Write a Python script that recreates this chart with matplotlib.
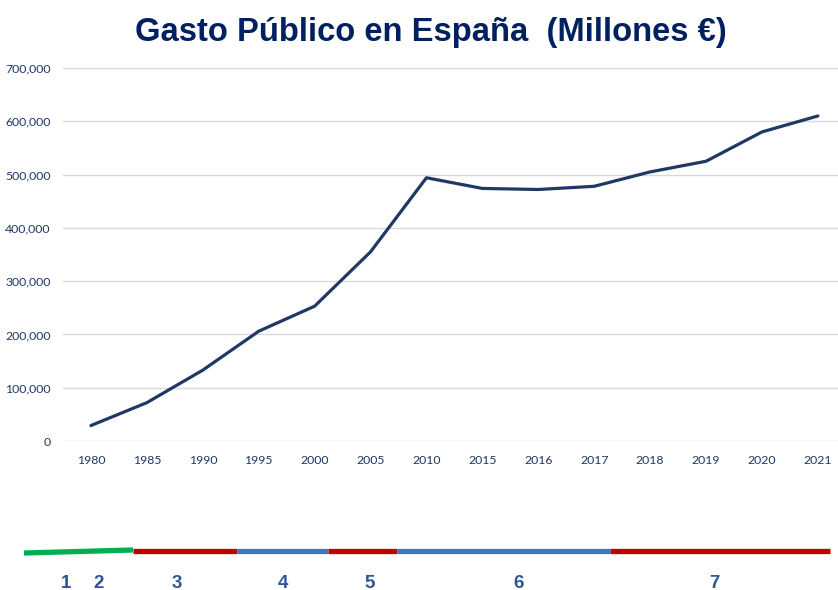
import numpy as np
import matplotlib.pyplot as plt
from matplotlib.ticker import FuncFormatter

# Gasto publico (millones de euros)
years = ["1980", "1985", "1990", "1995", "2000", "2005", "2010",
         "2015", "2016", "2017", "2018", "2019", "2020", "2021"]
spending = [29000, 72000, 133000, 206000, 253000, 355000, 494000,
            474000, 472000, 478000, 505000, 525000, 580000, 610000]

# Periodos de la linea temporal inferior
period_edges = [24, 133, 237, 328, 397, 610, 830]
period_colors = ["#00B050", "#C00000", "#4472C4", "#C00000", "#4472C4", "#C00000"]
period_labels = ["1", "2", "3", "4", "5", "6", "7"]
label_pos = [66, 99, 177, 283, 370, 519, 714]

W, H = 838, 590
fig = plt.figure(figsize=(W / 100, H / 100), dpi=100)

ax = fig.add_axes([63 / W, 1 - 441 / H, 1 - 63 / W, (441 - 68) / H])
x = np.arange(len(years))
ax.plot(x, spending, color="#203864", linewidth=2.3, solid_capstyle="round")
ax.set_xlim(-0.5, len(years) - 0.64)
ax.set_ylim(0, 700000)
ax.set_yticks(np.arange(0, 700001, 100000))
ax.yaxis.set_major_formatter(FuncFormatter(lambda v, p: f"{int(v):,}"))
ax.set_xticks(x)
ax.set_xticklabels(years)
ax.grid(axis="y", color="#D9D9D9", linewidth=1)
ax.set_axisbelow(True)
for s in ax.spines.values():
    s.set_visible(False)
ax.tick_params(length=0, labelsize=8.8, labelcolor="#1F3864")
ax.tick_params(axis="x", pad=10)
ax.tick_params(axis="y", pad=9)
for lbl in ax.get_xticklabels() + ax.get_yticklabels():
    lbl.set_fontfamily("Lato")

fig.text(0.514, 1 - 33 / H, "Gasto Público en España  (Millones €)",
         ha="center", va="center", fontsize=23.6, fontweight="bold",
         color="#002060", family="Liberation Sans")

# linea temporal
tl = fig.add_axes([0, 0, 1, 70 / H])
tl.set_xlim(0, W)
tl.set_ylim(590, 520)
tl.axis("off")
for i, c in enumerate(period_colors):
    x0, x1 = period_edges[i], period_edges[i + 1]
    y0, y1 = (553, 550) if i == 0 else (551, 551)
    tl.plot([x0, x1], [y0, y1], color=c, linewidth=3.8, solid_capstyle="butt")
for lab, px in zip(period_labels, label_pos):
    tl.text(px, 583, lab, ha="center", va="center", fontsize=13.5,
            fontweight="bold", color="#2F5597",
            family=["Liberation Sans Narrow", "Liberation Sans"])

fig.savefig("out.png", dpi=100)
